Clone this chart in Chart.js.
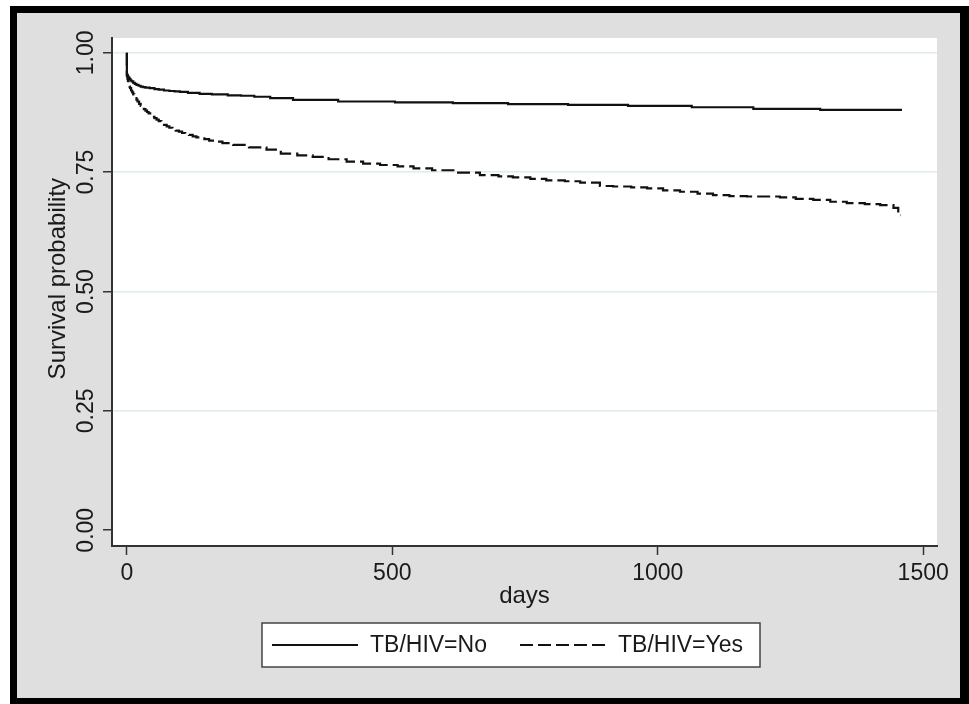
<!DOCTYPE html>
<html>
<head>
<meta charset="utf-8">
<title>Survival by TB/HIV</title>
<script src="https://cdn.jsdelivr.net/npm/chart.js@4.4.1/dist/chart.umd.min.js"></script>
<style>
  html, body { margin: 0; padding: 0; background: #fff; }
  #frame {
    position: absolute;
    left: 10px;
    top: 6px;
    width: 943px;
    height: 685px;
    border-style: solid;
    border-color: #000;
    border-width: 7px 9px 6px 7px;
    background: #dfdfdf;
  }
  canvas { display: block; }
</style>
</head>
<body>
<div id="frame"><canvas id="km" width="943" height="685"></canvas></div>
<script>
// series names, as in the legend
const seriesLabels = ["TB/HIV=No", "TB/HIV=Yes"];

// Kaplan-Meier steps: day of drop, survival after the drop
const daysNo = [0, 0, 1, 2, 3, 5, 7, 9, 12, 15, 18, 22, 26, 30, 35, 43, 52, 60, 70, 80, 90, 100, 115, 137, 160, 190, 215, 240, 270, 313, 398, 505, 614, 718, 831, 944, 1064, 1180, 1306, 1460];
const survNo = [1.0, 0.955, 0.952, 0.950, 0.948, 0.945, 0.942, 0.940, 0.937, 0.935, 0.933, 0.931, 0.929, 0.928, 0.927, 0.926, 0.924, 0.923, 0.921, 0.920, 0.919, 0.918, 0.916, 0.914, 0.913, 0.911, 0.910, 0.908, 0.905, 0.9015, 0.898, 0.896, 0.8945, 0.8925, 0.891, 0.889, 0.886, 0.8826, 0.8805, 0.8805];

const daysYes = [0, 0, 1, 2, 3, 4, 5, 6, 8, 10, 12, 14, 16, 18, 20, 23, 26, 29, 32, 35, 38, 41, 44, 48, 52, 56, 60, 65, 70, 75, 80, 86, 92, 98, 104, 110, 117, 124, 131, 138, 146, 155, 165, 180, 200, 230, 263, 290, 321, 350, 380, 414, 445, 477, 510, 540, 575, 620, 665, 700, 727, 760, 790, 825, 854, 891, 916, 950, 980, 1010, 1042, 1075, 1104, 1135, 1168, 1230, 1260, 1293, 1325, 1356, 1390, 1419, 1444, 1453, 1458];
const survYes = [1.0, 0.952, 0.946, 0.941, 0.936, 0.932, 0.929, 0.926, 0.921, 0.917, 0.913, 0.909, 0.905, 0.902, 0.898, 0.893, 0.889, 0.885, 0.882, 0.879, 0.876, 0.873, 0.870, 0.866, 0.863, 0.860, 0.857, 0.853, 0.849, 0.846, 0.843, 0.840, 0.837, 0.835, 0.832, 0.830, 0.828, 0.825, 0.823, 0.821, 0.819, 0.816, 0.814, 0.811, 0.807, 0.802, 0.797, 0.789, 0.785, 0.782, 0.777, 0.772, 0.768, 0.765, 0.762, 0.758, 0.754, 0.749, 0.744, 0.741, 0.739, 0.736, 0.733, 0.731, 0.728, 0.721, 0.720, 0.718, 0.716, 0.712, 0.709, 0.705, 0.702, 0.700, 0.699, 0.697, 0.694, 0.692, 0.688, 0.685, 0.683, 0.681, 0.675, 0.660, 0.660];

// axis ticks
const xTicks = [0, 500, 1000, 1500];
const yTicks = [0, 0.25, 0.5, 0.75, 1];

const FONT = "'Liberation Sans', Arial, sans-serif";
const INK = "#1a1a1a";
const AXIS = "#333333";
const GRID = "#dfeced";

function toPoints(days, surv) {
  return days.map((d, i) => ({ x: d, y: surv[i] }));
}

// white plot region inside the grey graph region
const plotBg = {
  id: "plotBg",
  beforeDraw(chart) {
    const { ctx, chartArea: a } = chart;
    ctx.save();
    ctx.fillStyle = "#ffffff";
    ctx.fillRect(a.left, a.top, a.right - a.left, a.bottom - a.top);
    ctx.restore();
  }
};

// Stata style boxed legend under the axis title
const boxLegend = {
  id: "boxLegend",
  afterDraw(chart) {
    const ctx = chart.ctx;
    const box = { x: 245, y: 610, w: 498, h: 44 };
    const slots = [
      { lineX: 255, lineW: 86, textX: 353 },
      { lineX: 503, lineW: 87, textX: 601 }
    ];
    const midY = box.y + box.h / 2;

    ctx.save();
    ctx.fillStyle = "#ffffff";
    ctx.fillRect(box.x, box.y, box.w, box.h);
    ctx.strokeStyle = "#444444";
    ctx.lineWidth = 1.5;
    ctx.strokeRect(box.x, box.y, box.w, box.h);

    chart.data.datasets.forEach((ds, i) => {
      const s = slots[i];
      ctx.beginPath();
      ctx.setLineDash(ds.borderDash || []);
      ctx.strokeStyle = ds.borderColor;
      ctx.lineWidth = ds.borderWidth;
      ctx.moveTo(s.lineX, midY);
      ctx.lineTo(s.lineX + s.lineW, midY);
      ctx.stroke();
      ctx.setLineDash([]);

      ctx.fillStyle = INK;
      ctx.font = "23px " + FONT;
      ctx.textAlign = "left";
      ctx.textBaseline = "middle";
      ctx.fillText(ds.label, s.textX, midY + 1);
    });
    ctx.restore();
  }
};

new Chart(document.getElementById("km"), {
  type: "line",
  data: {
    datasets: [
      {
        label: seriesLabels[0],
        data: toPoints(daysNo, survNo),
        borderColor: "#111111",
        borderWidth: 2.2,
        stepped: true,
        pointRadius: 0,
        fill: false
      },
      {
        label: seriesLabels[1],
        data: toPoints(daysYes, survYes),
        borderColor: "#111111",
        borderWidth: 2.2,
        borderDash: [13, 5],
        stepped: true,
        pointRadius: 0,
        fill: false
      }
    ]
  },
  options: {
    responsive: false,
    animation: false,
    devicePixelRatio: 1,
    layout: { padding: { left: 0, right: 23, top: 25, bottom: 87 } },
    plugins: {
      legend: { display: false },
      tooltip: { enabled: false }
    },
    scales: {
      x: {
        type: "linear",
        min: -28,
        max: 1526,
        afterBuildTicks: (s) => { s.ticks = xTicks.map(v => ({ value: v })); },
        afterFit: (s) => { s.height = 65; },
        grid: { drawOnChartArea: false, tickLength: 9, tickColor: AXIS, tickWidth: 1.5 },
        border: { color: AXIS, width: 2 },
        ticks: {
          color: INK,
          font: { family: FONT, size: 23 },
          padding: 5,
          maxRotation: 0,
          autoSkip: false,
          callback: (v) => String(v)
        },
        title: {
          display: true,
          text: "days",
          color: INK,
          font: { family: FONT, size: 24 },
          padding: { top: 0, bottom: 0 }
        }
      },
      y: {
        type: "linear",
        min: -0.033,
        max: 1.031,
        afterBuildTicks: (s) => { s.ticks = yTicks.map(v => ({ value: v })); },
        afterFit: (s) => { s.width = 95; },
        grid: {
          color: (c) => (c.tick && c.tick.value === 0 ? "rgba(0,0,0,0)" : GRID),
          lineWidth: 1.5,
          tickLength: 9,
          tickColor: AXIS,
          tickWidth: 1.5
        },
        border: { color: AXIS, width: 2 },
        ticks: {
          color: INK,
          font: { family: FONT, size: 23 },
          minRotation: 90,
          maxRotation: 90,
          crossAlign: "center",
          padding: -6,
          autoSkip: false,
          callback: (v) => Number(v).toFixed(2)
        },
        title: {
          display: true,
          text: "    Survival probability",
          color: INK,
          font: { family: FONT, size: 24 },
          padding: { top: 27, bottom: 0 }
        }
      }
    }
  },
  plugins: [plotBg, boxLegend]
});
</script>
</body>
</html>
